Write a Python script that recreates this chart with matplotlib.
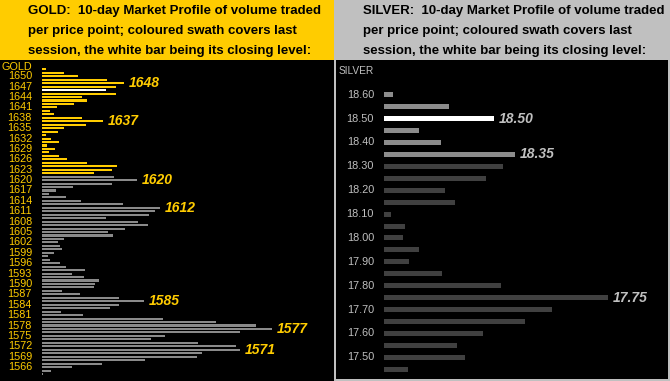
import matplotlib
matplotlib.use("Agg")
import matplotlib.pyplot as plt
from matplotlib.patches import Rectangle
import numpy as np

plt.rcParams['font.family'] = ['Liberation Sans', 'DejaVu Sans']

# ---------------- data ----------------
gold_prices = list(range(1652, 1563, -1))
gold_volume = [4, 22, 36, 65, 82, 74, 64, 74, 40, 45,
               32, 15, 8, 12, 40, 61, 44, 22, 16, 4,
               9, 17, 5, 13, 7, 17, 25, 45, 75, 70,
               52, 72, 95, 70, 31, 14, 7, 24, 39, 81,
               118, 113, 107, 64, 96, 106, 83, 66, 71, 22,
               16, 18, 20, 12, 6, 8, 18, 24, 43, 30,
               42, 57, 53, 52, 20, 38, 77, 102, 77, 68,
               19, 41, 121, 174, 214, 230, 198, 123, 109, 156,
               194, 198, 160, 155, 103, 60, 30, 9, 1]
gold_session_low = 1622
gold_session_high = 1652
gold_close = 1646
gold_tick_labels = ["GOLD"] + [str(p) for p in range(1650, 1565, -3)]
gold_tick_values = [1652.7] + list(range(1650, 1565, -3))
gold_annotations = [1648, 1637, 1620, 1612, 1585, 1577, 1571]

silver_prices = [18.60, 18.55, 18.50, 18.45, 18.40, 18.35, 18.30, 18.25,
                 18.20, 18.15, 18.10, 18.05, 18.00, 17.95, 17.90, 17.85,
                 17.80, 17.75, 17.70, 17.65, 17.60, 17.55, 17.50, 17.45]
silver_volume = [9, 65, 110, 35, 57, 131, 119, 102, 61, 71, 7, 21,
                 19, 35, 25, 58, 117, 224, 168, 141, 99, 73, 81, 24]
silver_session_low = 18.35
silver_session_high = 18.60
silver_close = 18.50
silver_tick_labels = ["18.60", "18.50", "18.40", "18.30", "18.20", "18.10",
                      "18.00", "17.90", "17.80", "17.70", "17.60", "17.50"]
silver_annotations = [18.50, 18.35, 17.75]

gold_title = ["GOLD:  10-day Market Profile of volume traded",
              "per price point; coloured swath covers last",
              "session, the white bar being its closing level:"]
silver_title = ["SILVER:  10-day Market Profile of volume traded",
                "per price point; coloured swath covers last",
                "session, the white bar being its closing level:"]

# ---------------- styling ----------------
W, H = 670, 381
YELLOW = "#FFCC00"
GREY_HDR = "#C0C0C0"
GOLD_GREY = "#8A8A8A"
SIL_LIGHT = "#8C8C8C"
SIL_DARK = "#404040"

fig = plt.figure(figsize=(W / 100, H / 100), dpi=100, facecolor=GREY_HDR)


def fx(px):
    return px / W


def fy(py_top):
    return 1 - py_top / H


# headers
fig.add_artist(Rectangle((0, fy(60)), fx(334), 60 / H, transform=fig.transFigure,
                         facecolor=YELLOW, edgecolor='none', zorder=0))
for i, line in enumerate(gold_title):
    fig.text(fx(28), fy(11 + 20 * i), line, fontsize=9.5, fontweight='bold',
             color='black', va='center', ha='left')
for i, line in enumerate(silver_title):
    fig.text(fx(363), fy(11 + 20 * i), line, fontsize=9.5, fontweight='bold',
             color='black', va='center', ha='left')

# ---------------- gold panel ----------------
axg = fig.add_axes([0, 0, fx(334), (H - 60) / H])
axg.set_facecolor('black')
g_colors = []
for p in gold_prices:
    if p == gold_close:
        g_colors.append('white')
    elif gold_session_low <= p <= gold_session_high:
        g_colors.append(YELLOW)
    else:
        g_colors.append(GOLD_GREY)
axg.barh(gold_prices, gold_volume, left=0, height=0.6, color=g_colors)
axg.set_xlim(-42, 292)
axg.set_ylim(1561.98, 1654.69)
axg.set_xticks([])
axg.set_yticks([])
for s in axg.spines.values():
    s.set_visible(False)
for lab, v in zip(gold_tick_labels, gold_tick_values):
    axg.text(-10, v, lab, color=YELLOW, fontsize=7.8,
             ha='right', va='center')
g_vol = dict(zip(gold_prices, gold_volume))
for p in gold_annotations:
    axg.text(g_vol[p] + 5, p, str(p), color=YELLOW, fontsize=10,
             fontweight='bold', fontstyle='italic', ha='left', va='center')

# ---------------- silver panel ----------------
axs = fig.add_axes([fx(336), 1 - 379 / H, fx(332), (379 - 60) / H])
axs.set_facecolor('black')
s_colors = []
for p in silver_prices:
    if abs(p - silver_close) < 1e-6:
        s_colors.append('white')
    elif silver_session_low - 1e-6 <= p <= silver_session_high + 1e-6:
        s_colors.append(SIL_LIGHT)
    else:
        s_colors.append(SIL_DARK)
axs.barh(silver_prices, silver_volume, left=0, height=0.021, color=s_colors)
axs.set_xlim(-48, 284)
axs.set_ylim(17.4094, 18.7453)
axs.set_xticks([])
axs.set_yticks([])
for s in axs.spines.values():
    s.set_visible(False)
for lab in silver_tick_labels:
    axs.text(-10, float(lab), lab, color=GREY_HDR, fontsize=7.8,
             ha='right', va='center')
axs.text(-45, 18.698, "SILVER", color=GREY_HDR, fontsize=7.3,
         ha='left', va='center')
s_vol = dict(zip(silver_prices, silver_volume))
for p in silver_annotations:
    axs.text(s_vol[p] + 5, p, f"{p:.2f}", color=GREY_HDR, fontsize=10,
             fontweight='bold', fontstyle='italic', ha='left', va='center')

fig.savefig("out.png", dpi=100, facecolor=fig.get_facecolor())
